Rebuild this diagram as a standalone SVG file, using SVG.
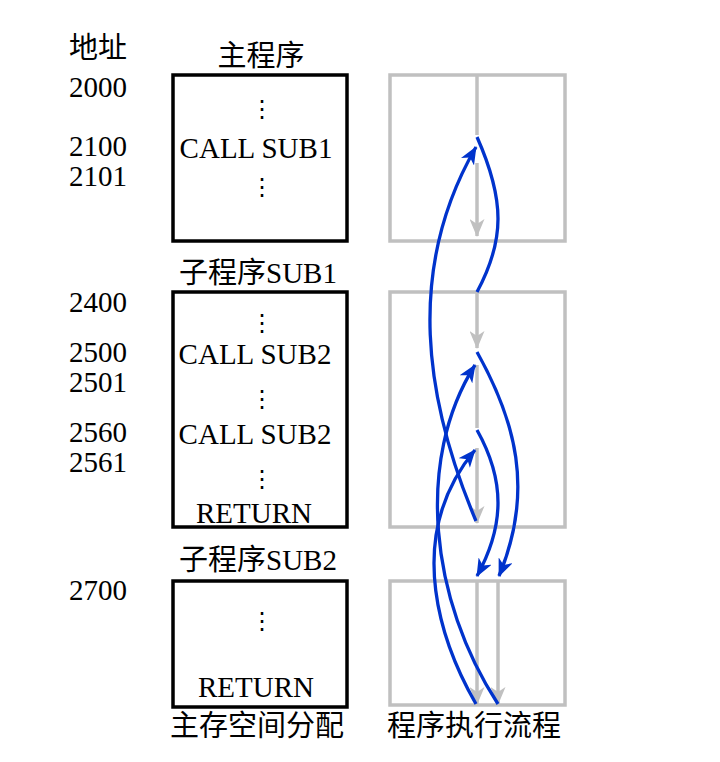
<svg xmlns="http://www.w3.org/2000/svg" width="720" height="762" viewBox="0 0 720 762">
<style>
.box{fill:none;stroke:#000;stroke-width:3.5}
.gbox{fill:none;stroke:#c0c0c0;stroke-width:3.5}
.gl{fill:none;stroke:#c0c0c0;stroke-width:3.5}
.bl{fill:none;stroke:#0033cc;stroke-width:3.3}
.num{font-family:"Liberation Serif","Times New Roman",serif;font-size:29px;fill:#000}
.code{font-family:"Liberation Serif","Times New Roman",serif;font-size:29px;fill:#000;text-anchor:middle}
.dots{font-family:"DejaVu Sans",sans-serif;font-size:24px;fill:#000;text-anchor:middle}
.cjk{font-family:"Noto Sans CJK SC","Noto Sans CJK JP",sans-serif;font-size:29px;fill:#000}
.ser{font-family:"Liberation Serif","Times New Roman",serif}
</style>
<defs>
<marker id="ab" markerUnits="userSpaceOnUse" markerWidth="18" markerHeight="15" viewBox="0 0 18 15" refX="17" refY="7.5" orient="auto">
<path d="M0,0 L18,7.5 L0,15 L5,7.5 z" fill="#0033cc"/>
</marker>
<marker id="ag" markerUnits="userSpaceOnUse" markerWidth="18" markerHeight="15" viewBox="0 0 18 15" refX="17" refY="7.5" orient="auto">
<path d="M0,0 L18,7.5 L0,15 L5,7.5 z" fill="#c0c0c0"/>
</marker>
</defs>

<text class="cjk" x="69" y="58">地址</text>
<g id="addresses">
<text class="num" x="69" y="97">2000</text>
<text class="num" x="69" y="156">2100</text>
<text class="num" x="69" y="186">2101</text>
<text class="num" x="69" y="312">2400</text>
<text class="num" x="69" y="362">2500</text>
<text class="num" x="69" y="392">2501</text>
<text class="num" x="69" y="442">2560</text>
<text class="num" x="69" y="472">2561</text>
<text class="num" x="69" y="600">2700</text>
</g>

<g id="main">
<text class="cjk" x="261" y="66" text-anchor="middle">主程序</text>
<rect class="box" x="173" y="75" width="174" height="166"/>
<text class="dots" x="262" y="117">⋮</text>
<text class="code" x="256" y="158">CALL SUB1</text>
<text class="dots" x="262" y="195">⋮</text>
</g>

<g id="sub1">
<text class="cjk" x="258" y="283" text-anchor="middle">子程序<tspan class="ser">SUB1</tspan></text>
<rect class="box" x="173" y="292" width="174" height="235"/>
<text class="dots" x="262" y="331">⋮</text>
<text class="code" x="255" y="364">CALL SUB2</text>
<text class="dots" x="262" y="407">⋮</text>
<text class="code" x="255" y="444">CALL SUB2</text>
<text class="dots" x="262" y="487">⋮</text>
<text class="code" x="254" y="523">RETURN</text>
</g>

<g id="sub2">
<text class="cjk" x="258" y="570" text-anchor="middle">子程序<tspan class="ser">SUB2</tspan></text>
<rect class="box" x="173" y="581" width="174" height="126"/>
<text class="dots" x="262" y="629">⋮</text>
<text class="code" x="256" y="697">RETURN</text>
<text class="cjk" x="257" y="736" text-anchor="middle">主存空间分配</text>
</g>

<g id="flow-main">
<rect class="gbox" x="390" y="75" width="175" height="166"/>
</g>
<g id="flow-sub1">
<rect class="gbox" x="390" y="292" width="175" height="235"/>
</g>
<g id="flow-sub2">
<rect class="gbox" x="390" y="581" width="175" height="124"/>
</g>
<text class="cjk" x="474" y="736" text-anchor="middle">程序执行流程</text>

<g id="connectors">
<line class="gl" x1="477" y1="75" x2="477" y2="135"/>
<line class="gl" x1="477" y1="163" x2="477" y2="236" marker-end="url(#ag)"/>
<line class="gl" x1="477" y1="292" x2="477" y2="348" marker-end="url(#ag)"/>
<line class="gl" x1="477" y1="365" x2="477" y2="428"/>
<line class="gl" x1="477" y1="448" x2="477" y2="523" marker-end="url(#ag)"/>
<line class="gl" x1="477" y1="581" x2="477" y2="704" marker-end="url(#ag)"/>
<line class="gl" x1="498" y1="581" x2="498" y2="704" marker-end="url(#ag)"/>

<path class="bl" d="M477,137 C505,200 505,240 477,292"/>
<path class="bl" d="M476,521 C425,400 405,270 476,147" marker-end="url(#ab)"/>
<path class="bl" d="M477,352 C515,420 535,490 499,576" marker-end="url(#ab)"/>
<path class="bl" d="M477,430 C505,480 505,525 477,576" marker-end="url(#ab)"/>
<path class="bl" d="M498,704 C430,600 415,460 475,365" marker-end="url(#ab)"/>
<path class="bl" d="M476,704 C445,650 400,540 475,450" marker-end="url(#ab)"/>
</g>
</svg>
